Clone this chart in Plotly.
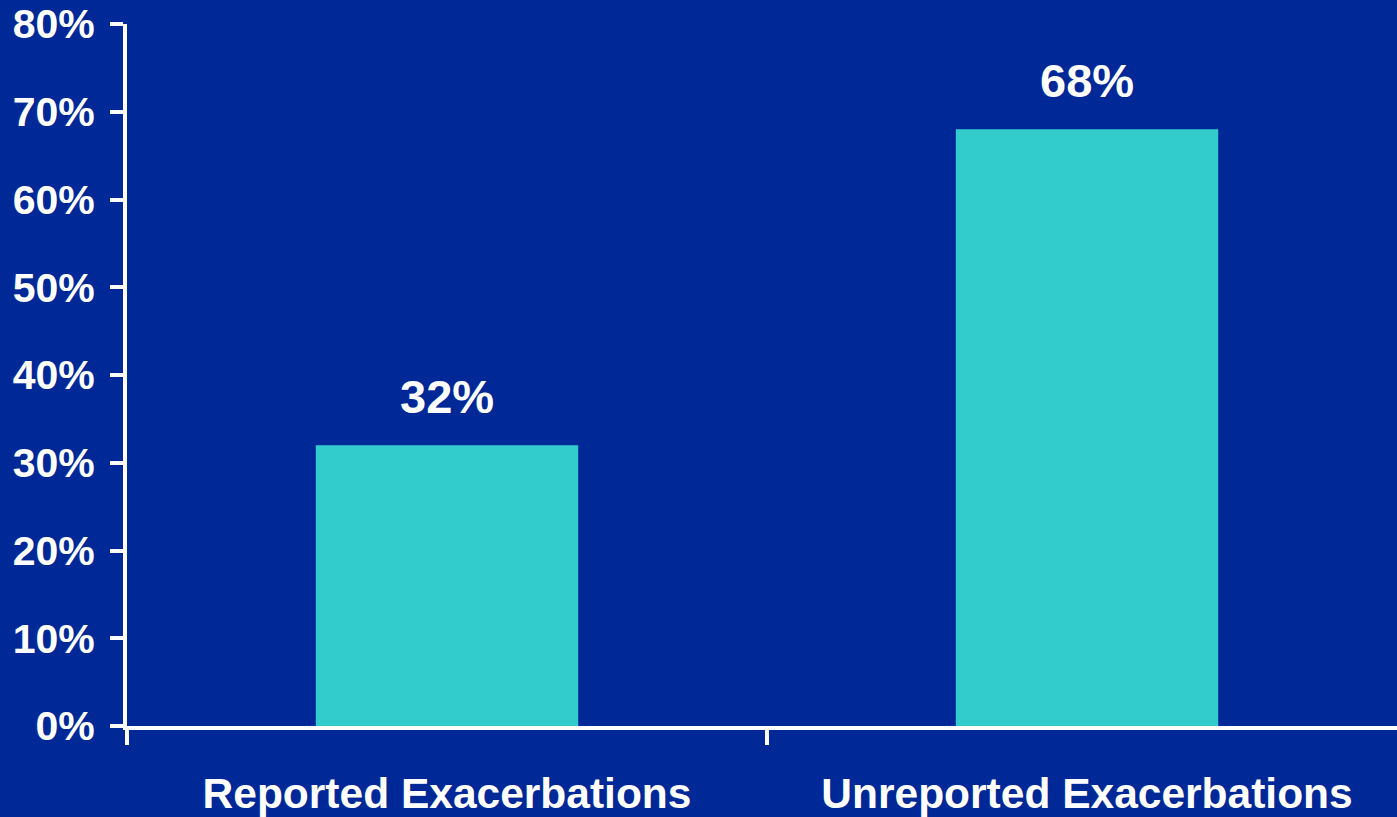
import plotly.graph_objects as go

categories = ["Reported Exacerbations", "Unreported Exacerbations"]
values = [32, 68]
value_labels = ["32%", "68%"]
y_ticks = [0, 10, 20, 30, 40, 50, 60, 70, 80]
y_tick_labels = ["0%", "10%", "20%", "30%", "40%", "50%", "60%", "70%", "80%"]

BG = "#002896"
BAR = "#33CCCC"
FONT = "Liberation Sans, Arial, sans-serif"

fig = go.Figure()
fig.add_trace(go.Bar(
    x=categories, y=values,
    marker=dict(color=BAR, line=dict(width=0)),
    width=0.41, hoverinfo="skip",
))

for c, v, t in zip(categories, values, value_labels):
    fig.add_annotation(x=c, y=v, text="<b>%s</b>" % t, showarrow=False,
                       yanchor="bottom", yshift=20,
                       font=dict(family=FONT, size=47, color="white"))

fig.update_layout(
    width=1397, height=817,
    margin=dict(l=127, r=0, t=24, b=91),
    paper_bgcolor=BG, plot_bgcolor=BG,
    showlegend=False,
    font=dict(family=FONT, color="white"),
)
fig.update_xaxes(
    type="category", range=[-0.5, (1397 - 127) / 640 - 0.5],
    showline=True, linecolor="white", linewidth=4,
    ticks="outside", tickson="boundaries", ticklen=15, tickwidth=4, tickcolor="white",
    showgrid=False, zeroline=False,
    tickfont=dict(family=FONT, size=42.5, color="white"),
    ticklabelstandoff=27,
    tickprefix="<b>", ticksuffix="</b>",
)
fig.update_yaxes(
    range=[0, 80], tickvals=y_ticks, ticktext=["<b>%s</b>" % t for t in y_tick_labels],
    showline=True, linecolor="white", linewidth=4,
    ticks="outside", ticklen=13, tickwidth=4, tickcolor="white",
    showgrid=False, zeroline=False,
    tickfont=dict(family=FONT, size=41, color="white"),
    ticklabelstandoff=7,
)

fig.write_html("out.html")
